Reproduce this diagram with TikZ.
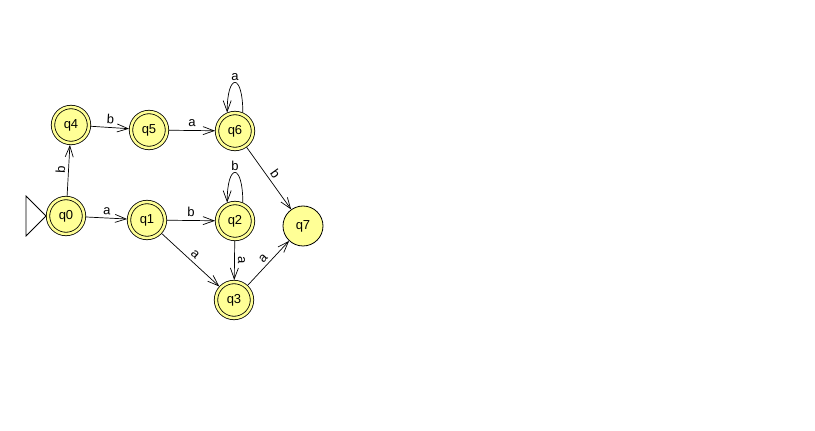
\documentclass[tikz,border=0pt]{standalone}
\usepackage{fontspec}
\setmainfont{Liberation Sans}
\usepackage{tikz}
\usetikzlibrary{arrows, arrows.meta, automata}

\definecolor{stateyellow}{RGB}{255,255,150}

\begin{document}
\begin{tikzpicture}[
            > = {Straight Barb[length=11pt, width=8pt]}, % open arrow head
            shorten > = 0pt,
            auto,
            node distance = 85pt, % distance between nodes
            line width = 0.7pt,
            font = \fontsize{13}{15}\selectfont
        ]

        \tikzstyle{every state}=[
            draw = black,
            line width = 0.8pt,
            fill = stateyellow,
            minimum size = 40pt,
            inner sep = 0pt
        ]
        \tikzstyle{final}=[
            double = stateyellow,
            double distance = 2.6pt,
            minimum size = 36pt,
            outer sep = 2pt
        ]
        \tikzstyle{lbl}=[sloped, inner sep = 3pt]

        \useasboundingbox (-66pt,-215pt) rectangle (749pt,216pt);

        \node[state, final] (q0) {q0};
        \node[state, final] (q1) [right of=q0, node distance=81pt, yshift=-4pt] {q1};
        \node[state, final] (q2) [right of=q1, node distance=88pt, yshift=-1pt] {q2};
        \node[state, final] (q3) [below of=q2, node distance=79pt, xshift=-1pt] {q3};
        \node[state, final] (q4) [above of=q0, node distance=91pt, xshift=5pt] {q4};
        \node[state, final] (q5) [right of=q4, node distance=78pt, yshift=-5pt] {q5};
        \node[state, final] (q6) [right of=q5, node distance=86pt, yshift=-1pt] {q6};
        \node[state] (q7) [right of=q2, node distance=68pt, yshift=-5pt] {q7};

        % start marker
        \draw[line width=0.8pt] (q0.west) -- ++(-20pt,20pt) -- ++(0,-40pt) -- cycle;

        \path[->] (q0) edge node[lbl] {b} (q4);
        \path[->] (q4) edge node[lbl] {b} (q5);
        \path[->] (q5) edge node[lbl] {a} (q6);
        \path[->] (q6) edge node[lbl] {b} (q7);
        \path[->] (q0) edge node[lbl] {a} (q1);
        \path[->] (q1) edge node[lbl] {b} (q2);
        \path[->] (q1) edge node[lbl] {a} (q3);
        \path[->] (q2) edge node[lbl, allow upside down] {a} (q3);
        \path[->] (q3) edge node[lbl] {a} (q7);
        \path[->] (q2.67) edge[out=90, in=90, distance=40pt] node[above, inner sep=1.5pt] {b} (q2.113);
        \path[->] (q6.67) edge[out=90, in=90, distance=40pt] node[above, inner sep=1.5pt] {a} (q6.113);

  \end{tikzpicture}
\end{document}
